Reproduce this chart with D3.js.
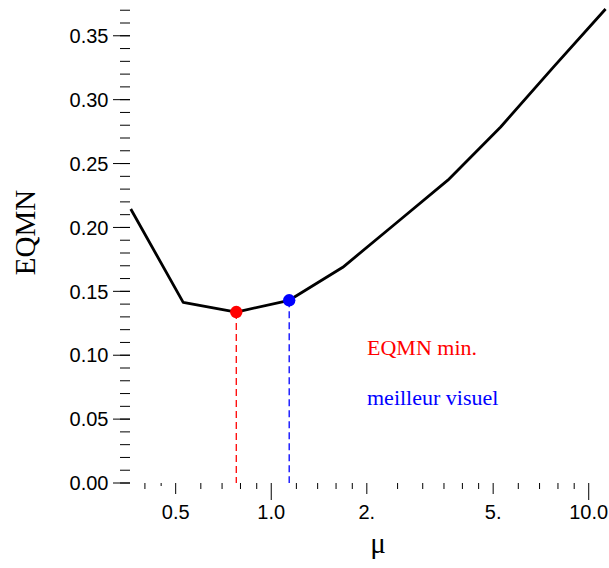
<!DOCTYPE html>
<html>
<head>
<meta charset="utf-8">
<script src="https://cdn.jsdelivr.net/npm/d3@7"></script>
<style>
html,body{margin:0;padding:0;background:#fff;}
svg{display:block;}
</style>
</head>
<body>
<svg id="chart" width="609" height="568"></svg>
<script>
// Data
const mu = [0.361, 0.528, 0.776, 1.139, 1.68, 2.46, 3.60, 5.28, 7.74, 11.3];
const eqmn = [0.2144, 0.1414, 0.1338, 0.1430, 0.1688, 0.2029, 0.237, 0.2786, 0.3255, 0.371];
const minPoint = {mu: 0.776, value: 0.1338, label: "EQMN min.", color: "#ff0000"};
const bestPoint = {mu: 1.139, value: 0.1430, label: "meilleur visuel", color: "#0000ff"};
const xMajorLong = [1, 10];
const xMajorShort = [0.5, 2, 5];
const xMinorShort = [0.45];
const xMinor = [0.4, 0.6, 0.7, 0.8, 0.9, 1.2, 1.4, 1.6, 1.8, 2.5, 3, 3.5, 4, 4.5, 6, 7, 8, 9];
const xTickLabels = [[0.5, "0.5"], [1, "1.0"], [2, "2."], [5, "5."], [10, "10.0"]];
const yMajor = [0, 0.05, 0.10, 0.15, 0.20, 0.25, 0.30, 0.35];
const yMinor = d3.range(0, 38).map(i => i / 100);

const svg = d3.select("#chart");
const x = d3.scaleLog().domain([0.359, 11.5]).range([130, 608]);
const y = d3.scaleLinear().domain([0, 0.378]).range([483, 0]);

// Y ticks
const yAxisX = 130;
svg.append("g").selectAll("line.ymin").data(yMinor).enter().append("line")
  .attr("x1", yAxisX - 10).attr("x2", yAxisX)
  .attr("y1", d => y(d)).attr("y2", d => y(d))
  .attr("stroke", "#000").attr("stroke-width", 1);
svg.append("g").selectAll("line.ymaj").data(yMajor).enter().append("line")
  .attr("x1", yAxisX - 17).attr("x2", yAxisX)
  .attr("y1", d => y(d)).attr("y2", d => y(d))
  .attr("stroke", "#000").attr("stroke-width", 1);
svg.append("g").selectAll("text").data(yMajor).enter().append("text")
  .attr("x", 108.5).attr("y", d => y(d)).attr("dy", "0.36em")
  .attr("text-anchor", "end")
  .attr("font-family", "Liberation Sans, Arial, sans-serif").attr("font-size", 20)
  .text(d => d.toFixed(2));

// X ticks
const xAxisY = 483;
function xticks(data, len) {
  svg.append("g").selectAll("line").data(data).enter().append("line")
    .attr("x1", d => x(d)).attr("x2", d => x(d))
    .attr("y1", xAxisY).attr("y2", xAxisY + len)
    .attr("stroke", "#000").attr("stroke-width", 1);
}
xticks(xMinor, 6);
xticks(xMinorShort, 3);
xticks(xMajorShort, 11);
xticks(xMajorLong, 17);
svg.append("g").selectAll("text").data(xTickLabels).enter().append("text")
  .attr("x", d => x(d[0])).attr("y", 519)
  .attr("text-anchor", "middle")
  .attr("font-family", "Liberation Sans, Arial, sans-serif").attr("font-size", 20)
  .text(d => d[1]);

// Axis labels
svg.append("text").attr("x", 378).attr("y", 553).attr("text-anchor", "middle")
  .attr("font-family", "Liberation Serif, Times New Roman, serif").attr("font-size", 29)
  .text("μ");
svg.append("text").attr("transform", "translate(35,232.5) rotate(-90)")
  .attr("text-anchor", "middle")
  .attr("font-family", "Liberation Serif, Times New Roman, serif").attr("font-size", 29)
  .text("EQMN");

// Dashed drop lines
[minPoint, bestPoint].forEach(p => {
  svg.append("line")
    .attr("x1", x(p.mu)).attr("x2", x(p.mu))
    .attr("y1", y(p.value)).attr("y2", y(0))
    .attr("stroke", p.color).attr("stroke-width", 1.3)
    .attr("stroke-dasharray", "7,4");
});

// Curve
const pts = mu.map((m, i) => [m, eqmn[i]]);
svg.append("path").datum(pts)
  .attr("d", d3.line().x(d => x(d[0])).y(d => y(d[1])))
  .attr("fill", "none").attr("stroke", "#000").attr("stroke-width", 2.8)
  .attr("stroke-linejoin", "round");

// Points
[minPoint, bestPoint].forEach(p => {
  svg.append("circle").attr("cx", x(p.mu)).attr("cy", y(p.value)).attr("r", 6.2)
    .attr("fill", p.color);
});

// Annotations
svg.append("text").attr("x", 367).attr("y", 355)
  .attr("font-family", "Liberation Serif, Times New Roman, serif").attr("font-size", 22)
  .attr("fill", minPoint.color).text(minPoint.label);
svg.append("text").attr("x", 367).attr("y", 405)
  .attr("font-family", "Liberation Serif, Times New Roman, serif").attr("font-size", 22)
  .attr("fill", bestPoint.color).text(bestPoint.label);
</script>
</body>
</html>
